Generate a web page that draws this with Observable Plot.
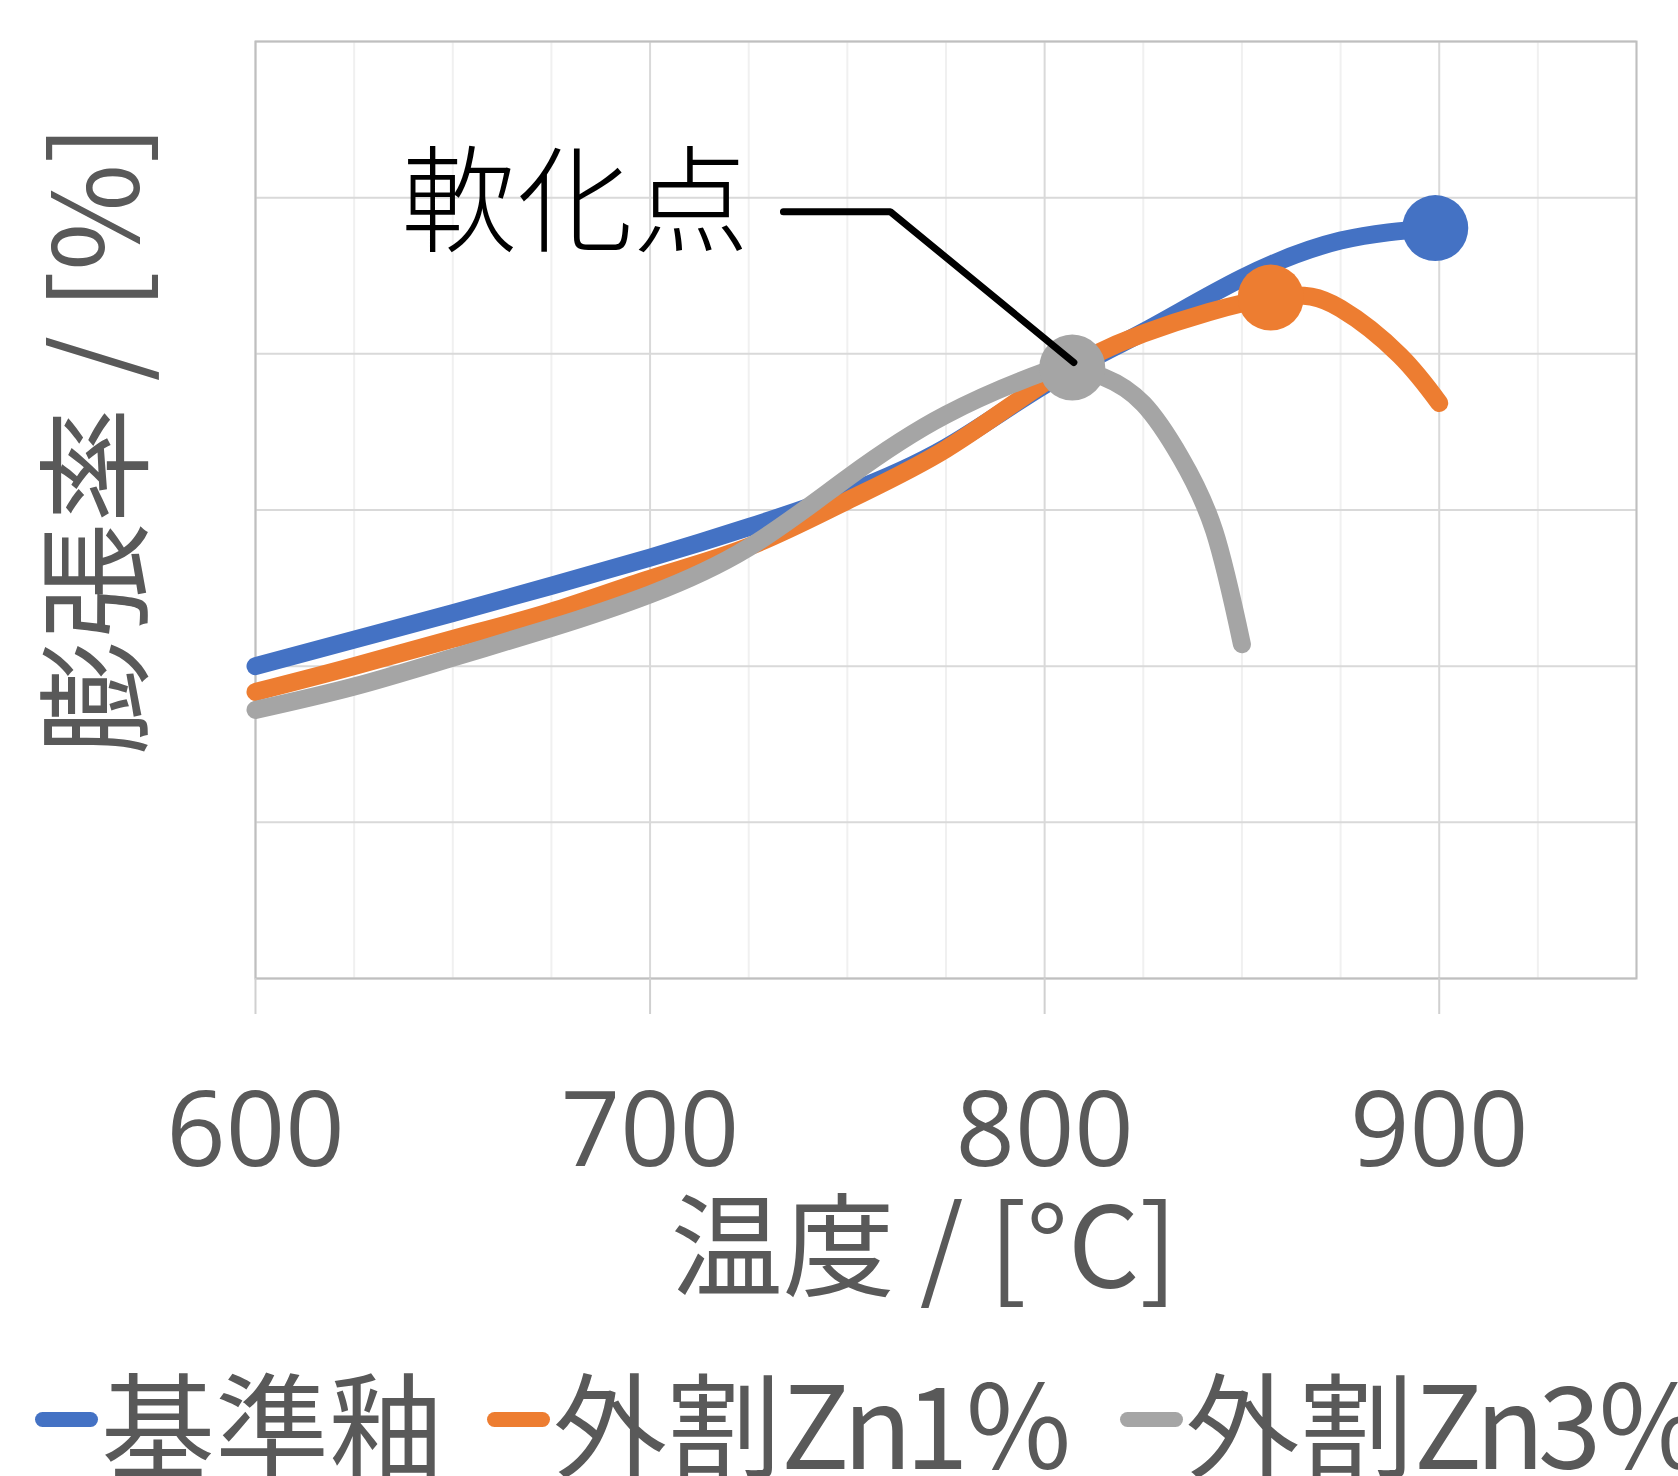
<!DOCTYPE html>
<html>
<head>
<meta charset="utf-8">
<script src="https://cdn.jsdelivr.net/npm/d3@7"></script>
<script src="https://cdn.jsdelivr.net/npm/@observablehq/plot@0.6"></script>
<style>
  html, body { margin: 0; padding: 0; background: #ffffff; }
  #wrap { position: relative; width: 1678px; height: 1476px; overflow: hidden; background: #ffffff; }
  #chart { position: absolute; left: 0; top: 0; }
  #legend { position: absolute; left: 0; top: 1334px; height: 170px; display: flex; align-items: center;
            white-space: nowrap; font-family: "Noto Sans CJK JP", "Noto Sans", sans-serif; font-size: 114px;
            color: #595959; padding-left: 35px; }
  .item { display: flex; align-items: center; margin-right: 44px; }
  .sw { width: 63px; height: 15px; border-radius: 8px; margin-right: 3px; flex: none; }
  .lat { letter-spacing: -7px; }
</style>
</head>
<body>
<div id="wrap">
  <div id="chart"></div>
  <div id="legend"></div>
</div>
<script>
// ---- data ----
const seriesNames = ["基準釉", "外割Zn1％", "外割Zn3％"];

const tempBase = [600, 625, 650, 675, 700, 725, 750, 775, 800, 825, 850, 875, 899];
const expBase  = [0.400, 0.434, 0.468, 0.503, 0.539, 0.578, 0.622, 0.680, 0.760, 0.828, 0.897, 0.945, 0.961];

const tempZn1 = [600, 625, 650, 675, 700, 725, 750, 775, 800, 825, 857.3, 875, 890, 900];
const expZn1  = [0.367, 0.400, 0.435, 0.470, 0.512, 0.553, 0.612, 0.678, 0.763, 0.826, 0.872, 0.858, 0.798, 0.737];

const tempZn3 = [600, 625, 650, 675, 700, 725, 750, 775, 800, 807, 815, 825, 834.5, 843, 850];
const expZn3  = [0.344, 0.374, 0.411, 0.449, 0.492, 0.552, 0.641, 0.722, 0.777, 0.7825, 0.770, 0.736, 0.667, 0.573, 0.428];

// softening points (large markers)
const markerTemp = [899, 857.3, 807];
const markerExp  = [0.961, 0.872, 0.7825];

// annotation
const annotationText = "軟化点";
const annotationTemp = [681];
const annotationExp  = [0.989];
const leaderTemp = [733.8, 760.9, 807.4];
const leaderExp  = [0.982, 0.982, 0.789];

// axes
const xMajorTicks = [600, 700, 800, 900];
const xMinorTicks = [625, 650, 675, 725, 750, 775, 825, 850, 875, 925, 950];
const yGridValues = [0, 0.2, 0.4, 0.6, 0.8, 1.0, 1.2];
const xLabel = "温度 / [°C]";
const yLabel = "膨張率 / [%]";

// ---- styling ----
const colors = ["#4472C4", "#ED7D31", "#A5A5A5"];
const cjk = "'Noto Sans CJK JP', 'Noto Sans', sans-serif";
const latin = "'Open Sans', 'Noto Sans', sans-serif";

const rows = [];
[[tempBase, expBase], [tempZn1, expZn1], [tempZn3, expZn3]].forEach(([ts, vs], i) => {
  ts.forEach((t, j) => rows.push({series: seriesNames[i], t, v: vs[j]}));
});
const markers = seriesNames.map((s, i) => ({series: s, t: markerTemp[i], v: markerExp[i]}));
const leader = leaderTemp.map((t, i) => ({t, v: leaderExp[i]}));
const annotation = annotationTemp.map((t, i) => ({t, v: annotationExp[i], text: annotationText}));

const chart = Plot.plot({
  width: 1678,
  height: 1340,
  marginLeft: 255,
  marginRight: 42,
  marginTop: 41,
  marginBottom: 362,
  style: {background: "#ffffff", overflow: "visible"},
  x: {domain: [600, 950], axis: null},
  y: {domain: [0, 1.2], axis: null},
  color: {domain: seriesNames, range: colors},
  marks: [
    Plot.gridX(xMinorTicks, {stroke: "#F0F0F0", strokeOpacity: 1, strokeWidth: 2}),
    Plot.gridX(xMajorTicks, {stroke: "#D9D9D9", strokeOpacity: 1, strokeWidth: 2}),
    Plot.gridY(yGridValues, {stroke: "#D9D9D9", strokeOpacity: 1, strokeWidth: 2}),
    Plot.frame({stroke: "#BFBFBF", strokeWidth: 2}),
    Plot.axisX(xMajorTicks, {
      anchor: "bottom", label: null, tickSize: 36, tickPadding: 78,
      stroke: "#D0D0D0", strokeWidth: 2, fill: "#595959",
      fontSize: 104, fontFamily: latin
    }),
    Plot.line(rows, {
      x: "t", y: "v", z: "series", stroke: "series", strokeWidth: 18,
      curve: "natural", strokeLinecap: "round", strokeLinejoin: "round"
    }),
    Plot.dot(markers, {x: "t", y: "v", fill: "series", r: 33, stroke: "none"}),
    Plot.line(leader, {x: "t", y: "v", stroke: "#000000", strokeWidth: 7, strokeLinejoin: "miter"}),
    Plot.text(annotation, {
      x: "t", y: "v", text: "text", fill: "#000000", fontSize: 116, fontWeight: 300,
      fontFamily: cjk, textAnchor: "middle", lineAnchor: "middle"
    }),
    Plot.text([xLabel], {
      frameAnchor: "bottom", dx: -22, dy: 274, fill: "#595959", fontSize: 112,
      fontFamily: cjk, textAnchor: "middle", lineAnchor: "middle"
    }),
    Plot.text([yLabel], {
      frameAnchor: "left", rotate: -90, dx: -155, dy: -70, fill: "#595959", fontSize: 116,
      fontFamily: cjk, textAnchor: "middle", lineAnchor: "middle"
    })
  ]
});
document.getElementById("chart").appendChild(chart);

// legend
const legend = document.getElementById("legend");
seriesNames.forEach((name, i) => {
  const item = document.createElement("div");
  item.className = "item";
  const sw = document.createElement("div");
  sw.className = "sw";
  sw.style.background = colors[i];
  const label = document.createElement("span");
  const m = name.match(/^([^A-Za-z0-9]*)([A-Za-z0-9]*)(.*)$/);
  label.appendChild(document.createTextNode(m[1]));
  if (m[2]) {
    const lat = document.createElement("span");
    lat.className = "lat";
    lat.textContent = m[2];
    label.appendChild(lat);
  }
  label.appendChild(document.createTextNode(m[3]));
  item.appendChild(sw);
  item.appendChild(label);
  legend.appendChild(item);
});
</script>
</body>
</html>
